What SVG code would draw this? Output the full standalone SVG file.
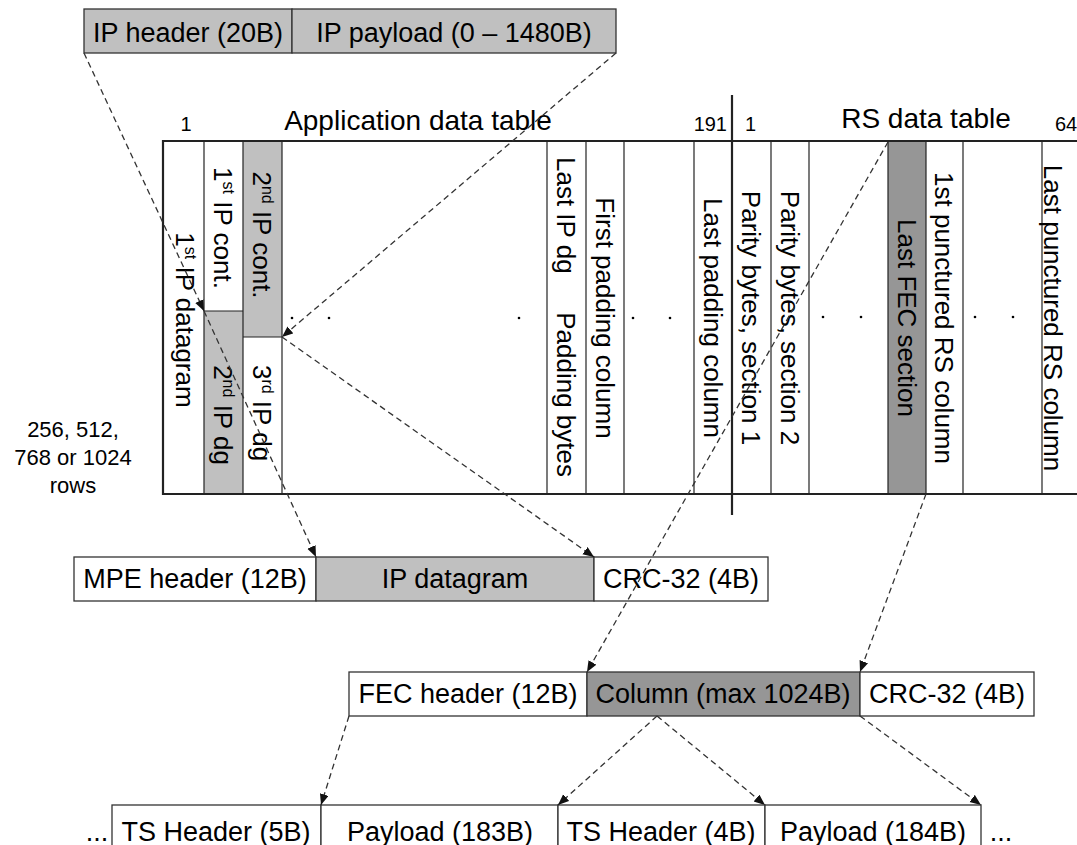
<svg xmlns="http://www.w3.org/2000/svg" width="1077" height="845" viewBox="0 0 1077 845">
<style>
text{font-family:"Liberation Sans",Arial,sans-serif;fill:#000}
.t{font-size:26px}
.b{font-size:27px}
.h{font-size:28px}
.m{text-anchor:middle}
.e{text-anchor:end}
.s{font-size:20px}
.box{stroke:#333;stroke-width:1.3}
.w{fill:#fff}
.g{fill:#c0c0c0}
.d{fill:#969696}
.ln{stroke:#222;stroke-width:1.2;fill:none}
.th{stroke:#222;stroke-width:2.2;fill:none}
.dash{stroke:#333;stroke-width:1.3;fill:none;stroke-dasharray:6 4;marker-end:url(#ah)}
.dot{fill:#000}
</style>
<defs>
<marker id="ah" markerUnits="userSpaceOnUse" markerWidth="12" markerHeight="10" refX="11" refY="4.5" orient="auto">
<path d="M0,0 L11,4.5 L0,9 z" fill="#111"/>
</marker>
</defs>
<rect width="1077" height="845" fill="#fff"/>

<g id="ip-packet">
<rect class="box g" x="84" y="9" width="208" height="44"/>
<rect class="box g" x="292" y="9" width="324" height="44"/>
<text class="b m" x="188" y="42">IP header (20B)</text>
<text class="b m" x="454" y="42">IP payload (0 – 1480B)</text>
</g>

<g id="table-labels">
<text class="s m" x="186" y="131">1</text>
<text class="h m" x="418" y="130">Application data table</text>
<text class="s e" x="727" y="131">191</text>
<text class="s" x="745" y="131">1</text>
<text class="h m" x="926" y="128">RS data table</text>
<text class="s" x="1055" y="131">64</text>
</g>

<g id="app-table">
<rect class="g" x="243" y="141" width="39" height="196"/>
<rect class="g" x="204" y="311" width="39" height="183"/>
<line class="ln" x1="204" y1="141" x2="204" y2="494"/>
<line class="ln" x1="243" y1="141" x2="243" y2="494"/>
<line class="ln" x1="282" y1="141" x2="282" y2="494"/>
<line class="ln" x1="204" y1="311" x2="243" y2="311"/>
<line class="ln" x1="243" y1="337" x2="282" y2="337"/>
<line class="ln" x1="547" y1="141" x2="547" y2="494"/>
<line class="ln" x1="586" y1="141" x2="586" y2="494"/>
<line class="ln" x1="624" y1="141" x2="624" y2="494"/>
<line class="ln" x1="694" y1="141" x2="694" y2="494"/>
<circle class="dot" cx="292" cy="318" r="1.3"/>
<circle class="dot" cx="329" cy="318" r="1.3"/>
<circle class="dot" cx="519" cy="318" r="1.3"/>
<circle class="dot" cx="633" cy="318" r="1.3"/>
<circle class="dot" cx="670" cy="318" r="1.3"/>
<text class="t m" transform="translate(176,320) rotate(90)">1<tspan font-size="16" dy="-9">st</tspan><tspan dy="9"> IP datagram</tspan></text>
<text class="t m" transform="translate(214,228) rotate(90)">1<tspan font-size="16" dy="-9">st</tspan><tspan dy="9"> IP cont.</tspan></text>
<text class="t m" transform="translate(253,235) rotate(90)">2<tspan font-size="16" dy="-9">nd</tspan><tspan dy="9"> IP cont.</tspan></text>
<text class="t m" transform="translate(214,415) rotate(90)">2<tspan font-size="16" dy="-9">nd</tspan><tspan dy="9"> IP dg</tspan></text>
<text class="t m" transform="translate(253,413) rotate(90)">3<tspan font-size="16" dy="-9">rd</tspan><tspan dy="9"> IP dg</tspan></text>
<text class="t" transform="translate(557,157) rotate(90)">Last IP dg</text>
<text class="t e" transform="translate(557,477) rotate(90)">Padding bytes</text>
<text class="t m" transform="translate(596,318) rotate(90)">First padding column</text>
<text class="t m" transform="translate(704,318) rotate(90)">Last padding column</text>
</g>

<g id="rs-table">
<rect class="d" x="888" y="141" width="38" height="353"/>
<line class="ln" x1="771" y1="141" x2="771" y2="494"/>
<line class="ln" x1="809" y1="141" x2="809" y2="494"/>
<line class="ln" x1="888" y1="141" x2="888" y2="494"/>
<line class="ln" x1="926" y1="141" x2="926" y2="494"/>
<line class="ln" x1="963" y1="141" x2="963" y2="494"/>
<line class="ln" x1="1042" y1="141" x2="1042" y2="494"/>
<circle class="dot" cx="823" cy="317" r="1.3"/>
<circle class="dot" cx="861" cy="317" r="1.3"/>
<circle class="dot" cx="975" cy="317" r="1.3"/>
<circle class="dot" cx="1013" cy="317" r="1.3"/>
<text class="t m" transform="translate(742,318) rotate(90)">Parity bytes, section 1</text>
<text class="t m" transform="translate(781,318) rotate(90)">Parity bytes, section 2</text>
<text class="t m" transform="translate(898,318) rotate(90)">Last FEC section</text>
<text class="t m" transform="translate(935,318) rotate(90)">1st punctured RS column</text>
<text class="t m" transform="translate(1044,318) rotate(90)">Last punctured RS column</text>
</g>

<g id="table-frame">
<line class="th" x1="163" y1="141" x2="1077" y2="141"/>
<line class="th" x1="163" y1="494" x2="1077" y2="494"/>
<line class="th" x1="163" y1="140" x2="163" y2="495"/>
<line class="th" x1="732" y1="95" x2="732" y2="515"/>
</g>

<g id="rows-label">
<text class="m" font-size="22" x="73" y="437">256, 512,</text>
<text class="m" font-size="22" x="73" y="465">768 or 1024</text>
<text class="m" font-size="22" x="73" y="493">rows</text>
</g>

<g id="mpe-section">
<rect class="box w" x="74" y="557" width="242" height="44"/>
<rect class="box g" x="316" y="557" width="278" height="44"/>
<rect class="box w" x="594" y="557" width="174" height="44"/>
<text class="b m" x="195" y="588">MPE header (12B)</text>
<text class="b m" x="455" y="588">IP datagram</text>
<text class="b m" x="681" y="588">CRC-32 (4B)</text>
</g>

<g id="fec-section">
<rect class="box w" x="349" y="672" width="238" height="44"/>
<rect class="box d" x="587" y="672" width="273" height="44"/>
<rect class="box w" x="860" y="672" width="174" height="44"/>
<text class="b m" x="468" y="703">FEC header (12B)</text>
<text class="b m" x="723" y="703">Column (max 1024B)</text>
<text class="b m" x="947" y="703">CRC-32 (4B)</text>
</g>

<g id="ts-packets">
<rect class="box w" x="112" y="805" width="209" height="60"/>
<rect class="box w" x="321" y="805" width="237" height="60"/>
<rect class="box w" x="558" y="805" width="207" height="60"/>
<rect class="box w" x="765" y="805" width="216" height="60"/>
<text class="b m" x="97" y="841">...</text>
<text class="b m" x="216" y="841">TS Header (5B)</text>
<text class="b m" x="440" y="841">Payload (183B)</text>
<text class="b m" x="661" y="841">TS Header (4B)</text>
<text class="b m" x="873" y="841">Payload (184B)</text>
<text class="b m" x="1001" y="841">...</text>
</g>

<g id="connectors">
<line class="dash" x1="84" y1="53" x2="204" y2="311"/>
<line class="dash" x1="204" y1="311" x2="316" y2="557"/>
<line class="dash" x1="616" y1="53" x2="282" y2="337"/>
<line class="dash" x1="282" y1="337" x2="594" y2="557"/>
<line class="dash" x1="888" y1="142" x2="587" y2="672"/>
<line class="dash" x1="926" y1="494" x2="860" y2="672"/>
<line class="dash" x1="349" y1="716" x2="321" y2="805"/>
<line class="dash" x1="657" y1="716" x2="558" y2="805"/>
<line class="dash" x1="657" y1="716" x2="765" y2="805"/>
<line class="dash" x1="860" y1="716" x2="981" y2="805"/>
</g>
</svg>
